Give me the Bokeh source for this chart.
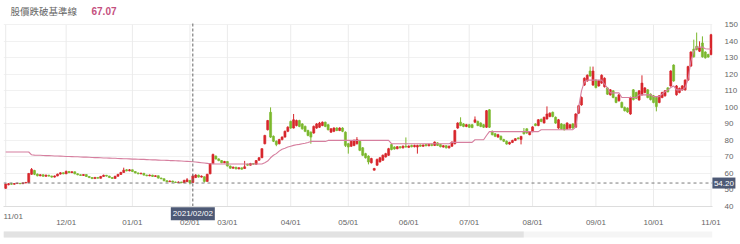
import pandas as pd
from bokeh.plotting import figure
from bokeh.models import Range1d, FixedTicker, Label, ColumnDataSource, Span
from bokeh.core.properties import value
from bokeh.layouts import column
from bokeh.embed import file_html
from bokeh.resources import INLINE

# ---------------- data ----------------
holidays = ["2021-01-01", "2021-02-08", "2021-02-09", "2021-02-10", "2021-02-11",
            "2021-02-12", "2021-02-15", "2021-02-16", "2021-03-01", "2021-04-02",
            "2021-04-05", "2021-06-14", "2021-09-20", "2021-09-21", "2021-10-11"]
first_day = "2020-11-02"
last_day = "2021-11-01"

open_ = [
    51.0, 53.2, 53.8, 53.5, 53.9, 54.0, 53.8, 54.3, 54.5, 59.5,
    61.8, 59.6, 58.6, 59.2, 58.3, 58.9, 58.4, 57.8, 58.5, 59.6,
    60.4, 59.8, 61.2, 60.5, 61.0, 59.8, 59.2, 58.8, 59.3, 58.2,
    57.5, 56.9, 57.6, 57.1, 58.2, 58.9, 58.4, 57.5, 57.0, 58.3,
    59.4, 60.6, 62.2, 61.6, 62.2, 61.2, 60.3, 59.8, 60.1, 59.0,
    58.6, 59.0, 58.2, 58.6, 57.2, 56.8, 55.6, 55.0, 55.4, 54.8,
    54.5, 54.8, 54.4, 55.0, 55.8, 54.5, 57.5, 59.0, 57.8, 58.0,
    55.2, 59.8, 66.0, 70.5, 68.8, 67.8, 66.5, 67.2, 64.5, 63.2,
    63.8, 62.8, 63.4, 63.0, 65.5, 65.0, 66.0, 65.6, 68.0, 69.5,
    78.0, 86.5, 97.0, 82.5, 79.5, 78.0, 80.5, 82.0, 85.5, 91.5,
    87.5, 89.0, 92.0, 90.0, 88.5, 86.0, 85.0, 84.5, 87.5, 88.0,
    89.0, 91.0, 89.5, 85.0, 85.5, 87.5, 86.0, 87.5, 85.0, 78.0,
    76.5, 77.0, 78.0, 79.5, 75.5, 72.0, 70.5, 66.5, 62.0, 65.0,
    67.0, 68.0, 70.0, 71.0, 77.5, 76.0, 75.0, 76.2, 75.5, 76.5,
    75.8, 77.0, 76.2, 76.0, 77.2, 76.5, 77.5, 76.8, 77.6, 77.0,
    78.5, 77.5, 76.0, 76.8, 75.5, 76.5, 78.0, 87.5, 91.0, 90.0,
    88.5, 89.5, 89.5, 91.0, 91.5, 90.5, 89.5, 88.0, 98.5, 85.5,
    84.0, 82.0, 82.5, 80.5, 79.5, 77.8, 78.8, 80.0, 81.5, 80.6,
    85.5, 87.0, 83.5, 85.3, 90.0, 89.0, 92.8, 90.6, 93.0, 94.5,
    97.0, 94.0, 87.5, 90.0, 89.5, 87.0, 87.5, 90.0, 88.0, 96.5,
    101.5, 113.5, 116.0, 122.0, 113.5, 116.5, 113.0, 114.7, 112.5, 111.8,
    107.6, 110.0, 106.0, 104.0, 103.0, 100.0, 99.5, 96.0, 110.6, 109.0,
    104.5, 107.6, 109.0, 110.6, 108.0, 107.0, 106.0, 103.0, 106.0, 107.0,
    111.8, 113.0, 125.6, 107.6, 109.0, 110.6, 110.6, 116.5, 125.0, 135.3,
    137.0, 134.0, 139.0, 133.5, 132.0, 132.0,
]
close_ = [
    53.6, 53.8, 53.5, 53.9, 54.0, 53.8, 54.3, 54.5, 60.0, 62.4,
    59.5, 58.6, 59.2, 58.3, 58.9, 58.4, 57.8, 58.5, 59.6, 60.4,
    59.8, 61.2, 60.5, 61.0, 59.8, 59.2, 58.8, 59.3, 58.2, 57.5,
    56.9, 57.6, 57.1, 58.2, 58.9, 58.4, 57.5, 57.0, 58.3, 59.4,
    60.6, 62.0, 61.6, 62.2, 61.2, 60.3, 59.8, 60.1, 59.0, 58.6,
    59.0, 58.2, 58.6, 57.2, 56.8, 55.6, 55.0, 55.4, 54.8, 54.5,
    54.8, 54.4, 55.8, 56.2, 54.3, 58.5, 59.0, 57.8, 58.4, 55.2,
    59.5, 66.0, 71.5, 68.8, 67.8, 66.5, 67.2, 64.5, 63.2, 63.8,
    62.8, 63.4, 62.6, 64.0, 65.0, 66.0, 65.6, 67.8, 69.5, 75.0,
    83.0, 92.0, 82.0, 79.5, 77.5, 80.5, 82.0, 85.5, 88.0, 87.5,
    92.5, 92.0, 88.5, 87.0, 85.5, 83.0, 82.0, 88.5, 90.0, 90.5,
    91.0, 88.5, 86.5, 87.0, 87.5, 86.0, 87.5, 85.5, 77.0, 76.0,
    79.5, 80.0, 80.5, 74.0, 71.0, 69.5, 67.0, 69.0, 63.0, 68.5,
    69.5, 71.0, 72.0, 75.0, 74.5, 74.8, 76.2, 75.5, 76.5, 76.0,
    76.6, 76.2, 77.0, 77.0, 76.5, 77.2, 76.8, 77.6, 76.9, 79.0,
    77.0, 76.2, 76.8, 75.5, 76.5, 79.0, 86.0, 90.5, 89.0, 88.5,
    89.5, 88.0, 87.8, 92.5, 89.0, 88.5, 88.0, 98.0, 88.0, 83.5,
    82.5, 83.5, 80.5, 79.5, 77.8, 78.8, 80.0, 81.0, 81.0, 82.4,
    84.0, 84.5, 85.3, 88.2, 89.0, 92.5, 91.5, 94.0, 96.0, 96.5,
    94.5, 90.5, 92.5, 87.0, 86.5, 90.5, 89.5, 87.5, 96.0, 101.0,
    106.0, 117.6, 119.4, 119.0, 122.0, 112.0, 116.0, 119.4, 117.6, 108.0,
    110.6, 106.0, 103.0, 107.6, 100.0, 98.0, 97.2, 106.0, 104.7, 105.5,
    110.0, 114.7, 111.8, 106.0, 104.7, 103.0, 100.5, 107.0, 109.0, 110.0,
    109.5, 122.0, 116.0, 113.0, 111.5, 113.0, 116.5, 124.7, 133.5, 130.6,
    135.0, 136.0, 130.6, 130.0, 130.5, 144.0,
]
high_ = [
    53.8, 54.2, 54.3, 54.2, 54.4, 54.3, 54.6, 54.9, 60.3, 63.3,
    62.2, 60.0, 59.6, 59.5, 59.4, 59.2, 58.7, 58.8, 59.9, 60.8,
    60.7, 61.8, 61.5, 61.4, 61.2, 60.1, 59.5, 59.6, 59.5, 58.4,
    57.8, 57.9, 57.8, 58.5, 59.3, 59.1, 58.6, 57.7, 58.6, 59.8,
    61.0, 63.5, 62.6, 62.7, 62.4, 61.4, 60.6, 60.5, 60.3, 59.3,
    59.4, 59.2, 58.9, 58.8, 57.5, 57.0, 55.9, 55.8, 55.6, 55.1,
    55.2, 55.0, 56.2, 57.2, 56.0, 59.4, 59.6, 59.3, 58.8, 58.2,
    59.8, 66.3, 72.0, 70.9, 69.2, 68.1, 67.6, 67.4, 64.8, 64.2,
    64.0, 63.8, 63.6, 67.6, 65.9, 66.4, 66.3, 68.1, 69.9, 75.3,
    83.4, 92.4, 100.0, 83.0, 80.0, 81.0, 82.5, 86.0, 88.6, 92.0,
    96.0, 92.6, 92.5, 90.5, 89.0, 86.5, 85.5, 89.0, 90.5, 91.2,
    91.5, 91.4, 90.0, 87.5, 88.0, 88.0, 88.0, 88.0, 85.5, 78.5,
    80.0, 80.6, 82.0, 80.0, 76.0, 72.5, 71.0, 69.5, 63.4, 69.0,
    70.0, 71.5, 72.5, 75.5, 78.0, 76.5, 76.6, 76.6, 77.0, 81.8,
    77.0, 77.4, 77.4, 77.4, 77.6, 77.6, 77.9, 78.0, 78.0, 79.4,
    78.9, 77.9, 77.2, 77.1, 76.9, 79.4, 86.4, 91.0, 94.0, 90.5,
    90.0, 90.0, 90.0, 94.5, 92.0, 91.0, 90.0, 98.4, 99.0, 86.0,
    84.5, 84.0, 83.0, 81.0, 80.0, 79.2, 80.4, 81.4, 81.9, 82.8,
    87.5, 87.4, 85.7, 88.6, 90.4, 92.9, 93.2, 94.4, 100.6, 97.0,
    97.5, 94.5, 93.0, 90.5, 90.0, 91.0, 90.0, 90.5, 96.5, 101.5,
    106.6, 118.2, 120.0, 124.7, 124.7, 117.0, 116.6, 120.0, 118.2, 112.3,
    111.1, 110.5, 106.5, 108.1, 103.5, 100.5, 100.0, 106.5, 111.1, 109.5,
    110.5, 119.4, 112.3, 111.1, 108.5, 107.5, 106.5, 107.5, 109.5, 110.5,
    112.3, 122.5, 126.1, 113.5, 112.0, 113.5, 117.0, 125.2, 134.0, 141.0,
    145.3, 140.0, 143.0, 134.0, 132.5, 144.5,
]
low_ = [
    50.6, 52.8, 53.2, 53.2, 53.6, 53.5, 53.6, 54.0, 54.2, 59.2,
    59.0, 58.2, 58.3, 58.0, 58.0, 58.1, 57.4, 57.5, 58.3, 59.3,
    59.5, 59.6, 60.2, 60.2, 59.5, 58.9, 58.5, 58.5, 57.9, 57.2,
    56.6, 56.7, 56.9, 56.9, 58.0, 58.1, 57.3, 56.7, 56.9, 58.1,
    59.2, 60.4, 61.3, 61.3, 60.9, 60.0, 59.5, 59.5, 58.7, 58.3,
    58.3, 57.9, 57.9, 56.9, 56.5, 55.3, 54.7, 54.8, 54.5, 54.2,
    54.3, 54.1, 54.2, 54.8, 53.4, 54.2, 57.2, 57.5, 57.5, 54.5,
    55.0, 59.5, 65.8, 68.4, 67.4, 66.2, 66.2, 64.2, 62.8, 62.9,
    62.5, 62.5, 62.3, 62.8, 64.7, 64.8, 65.3, 65.4, 67.8, 69.3,
    77.6, 86.0, 81.5, 79.0, 76.5, 77.6, 80.0, 81.7, 85.0, 87.0,
    87.2, 88.5, 88.0, 86.5, 85.0, 82.5, 78.0, 84.0, 87.0, 87.6,
    88.6, 88.0, 86.0, 84.6, 85.0, 85.6, 85.6, 85.0, 76.0, 72.0,
    76.0, 76.5, 77.5, 73.5, 70.5, 69.0, 65.5, 66.0, 61.8, 64.6,
    66.6, 67.6, 69.6, 70.6, 74.0, 74.4, 74.6, 75.1, 75.1, 75.6,
    75.4, 75.8, 75.8, 72.0, 76.1, 76.1, 76.4, 76.4, 76.5, 76.6,
    76.6, 75.8, 75.6, 75.1, 75.1, 76.1, 77.6, 87.0, 88.6, 88.0,
    88.0, 87.5, 87.4, 90.6, 88.6, 88.0, 87.5, 87.6, 87.5, 83.0,
    82.0, 81.6, 80.0, 79.0, 77.4, 77.4, 78.4, 79.6, 80.6, 77.6,
    83.6, 84.0, 83.1, 85.0, 88.6, 88.6, 91.0, 90.2, 92.6, 94.0,
    94.0, 90.0, 87.0, 86.5, 86.0, 86.6, 87.0, 87.0, 87.6, 96.0,
    101.0, 113.0, 115.5, 118.5, 113.0, 111.5, 112.5, 114.2, 112.0, 107.5,
    107.1, 105.5, 102.5, 103.5, 99.5, 97.5, 96.7, 95.5, 104.2, 105.0,
    104.0, 107.1, 108.5, 105.5, 104.2, 102.5, 97.6, 102.5, 105.5, 106.5,
    109.0, 112.5, 115.5, 107.1, 108.5, 110.1, 110.1, 116.0, 124.5, 130.1,
    134.5, 133.5, 130.1, 129.5, 130.0, 131.5,
]
baseline = [
    73.0, 73.0, 73.0, 73.0, 73.0, 73.0, 73.0, 73.0, 73.0, 71.3,
    71.1, 71.0, 71.0, 70.9, 70.8, 70.8, 70.7, 70.6, 70.6, 70.5,
    70.4, 70.3, 70.3, 70.2, 70.1, 70.1, 70.0, 69.9, 69.9, 69.8,
    69.7, 69.6, 69.6, 69.5, 69.4, 69.4, 69.3, 69.2, 69.2, 69.1,
    69.0, 68.9, 68.9, 68.8, 68.7, 68.7, 68.6, 68.5, 68.5, 68.4,
    68.3, 68.2, 68.2, 68.1, 68.0, 68.0, 67.9, 67.8, 67.8, 67.7,
    67.6, 67.5, 67.4, 67.3, 67.2, 67.07, 66.9, 66.7, 66.5, 66.3,
    66.1, 65.9, 65.8, 65.7, 65.7, 65.7, 65.7, 65.7, 65.7, 65.7,
    65.7, 65.7, 65.7, 65.7, 65.7, 65.7, 65.7, 65.7, 65.7, 65.7,
    66.5, 67.5, 69.5, 71.0, 72.0, 73.5, 74.7, 75.3, 76.0, 76.5,
    77.0, 77.4, 77.6, 78.0, 78.3, 78.8, 79.4, 79.4, 79.4, 79.4,
    79.4, 79.4, 80.0, 80.0, 80.0, 80.0, 80.0, 80.0, 80.0, 80.0,
    80.0, 80.0, 80.0, 80.0, 80.0, 80.0, 80.0, 80.0, 80.0, 80.0,
    80.0, 80.0, 80.0, 80.0, 78.0, 78.0, 78.0, 78.0, 78.0, 78.0,
    78.0, 78.0, 78.0, 78.0, 78.0, 78.0, 78.0, 78.0, 78.0, 78.0,
    78.0, 78.0, 78.0, 78.0, 78.0, 78.8, 78.8, 78.8, 78.8, 78.8,
    78.8, 78.8, 78.8, 80.4, 80.4, 80.4, 80.4, 83.0, 85.3, 85.3,
    85.3, 85.3, 85.3, 85.3, 85.3, 85.3, 85.3, 85.3, 85.3, 85.3,
    85.3, 85.3, 85.3, 85.3, 85.3, 85.3, 86.5, 86.5, 86.5, 86.5,
    86.5, 86.5, 86.5, 86.5, 86.5, 86.5, 86.5, 86.5, 88.0, 100.0,
    110.0, 115.5, 116.5, 116.5, 116.5, 116.5, 116.5, 116.5, 114.0, 111.8,
    108.8, 108.8, 108.8, 108.8, 106.0, 106.0, 106.0, 106.0, 106.0, 106.0,
    107.6, 107.6, 107.6, 107.6, 107.6, 106.5, 106.5, 106.5, 108.0, 109.5,
    110.6, 112.0, 113.0, 110.6, 110.6, 110.6, 112.0, 117.0, 128.0, 134.0,
    136.5, 136.5, 136.5, 135.5, 135.3, 135.3,
]
y_ticks = [40, 50, 60, 70, 80, 90, 100, 110, 120, 130, 140, 150]
title_text = "股價跌破基準線"
cross_date = "2021-02-02"
cross_price = 54.20

# ---------------- derived ----------------
n = len(close_)
dates = list(pd.bdate_range(first_day, last_day, freq="C", holidays=holidays))[:n]
xs = list(range(n))
month_ticks, month_labels, prev = [], {}, None
for i, d in enumerate(dates):
    if d.month != prev:
        month_ticks.append(i)
        month_labels[i] = f"{d.month:02d}/01"
    prev = d.month
cross_i = dates.index(pd.Timestamp(cross_date))

UP, DOWN = "#d7262c", "#7bb82d"
colors = [UP if c >= o else DOWN for o, c in zip(open_, close_)]
src = ColumnDataSource(dict(
    x=xs, high=high_, low=low_,
    top=[max(o, c) for o, c in zip(open_, close_)],
    bottom=[min(o, c) for o, c in zip(open_, close_)],
    color=colors, base=baseline,
))

FONT = "Liberation Sans"
W, H = 740, 229
BL, BR, BT, BB = 3, 23, 0, 17
x_start, x_end = -0.76, 245.5
y_start, y_end = 40, 164.7
px_x = (W - BL - BR) / (x_end - x_start)      # pixels per trading day
px_y = (H - BT - BB) / (y_end - y_start)      # pixels per price unit

p = figure(width=W, height=H, x_range=Range1d(x_start, x_end),
           y_range=Range1d(y_start, y_end), y_axis_location="right",
           output_backend="svg", toolbar_location=None,
           min_border_left=BL, min_border_right=BR, min_border_top=BT,
           min_border_bottom=BB)
p.outline_line_color = None
p.background_fill_color = "white"
p.border_fill_color = "white"

# grids: vertical month lines only over the price area
p.xgrid.visible = False
p.segment(x0=month_ticks, y0=[y_start] * len(month_ticks), x1=month_ticks,
          y1=[y_ticks[-1]] * len(month_ticks), line_color="#ebebeb", line_width=1)
p.ygrid.ticker = FixedTicker(ticks=y_ticks)
p.ygrid.grid_line_color = "#f1f1f1"

# axes
xa = p.xaxis[0]
xa.ticker = FixedTicker(ticks=month_ticks)
xa.major_label_overrides = {k: ("" if k == month_ticks[0] else v) for k, v in month_labels.items()}
xa.axis_line_color = "#dddddd"
xa.major_tick_line_color = None
xa.minor_tick_line_color = None
xa.major_label_text_font = FONT
xa.major_label_text_font_size = "8px"
xa.major_label_text_color = "#666666"
xa.major_label_standoff = 5

ya = p.yaxis[0]
ya.ticker = FixedTicker(ticks=y_ticks)
ya.axis_line_color = None
ya.major_tick_line_color = None
ya.minor_tick_line_color = None
ya.major_label_text_font = FONT
ya.major_label_text_font_size = "8px"
ya.major_label_text_color = "#666666"
ya.major_label_standoff = 6

# candles
p.segment(x0="x", y0="high", x1="x", y1="low", color="color", line_width=1, source=src)
p.vbar(x="x", width=0.72, top="top", bottom="bottom", fill_color="color",
       line_color="color", line_width=0.6, source=src)
# baseline
p.line(x="x", y="base", line_color="#d67f9f", line_width=1.1, source=src)

# crosshair
p.add_layout(Span(location=cross_price, dimension="width", line_color="#7a7a7a",
                  line_dash="3 3", line_width=1))
p.segment(x0=[cross_i], y0=[y_start], x1=[cross_i], y1=[y_ticks[-1] + 0.8],
          line_color="#666666", line_dash="3 2", line_width=1)

BOX = "#4d5975"
# crosshair labels drawn at overlay level (outside the frame)
date_y = y_start - 7.5 / px_y
p.rect(x=[cross_i], y=[date_y], width=44, height=13, width_units="screen",
       height_units="screen", fill_color=BOX, line_color=None, level="overlay")
p.text(x=[cross_i], y=[date_y], text=[dates[cross_i].strftime("%Y/%m/%d")],
       text_align="center", text_baseline="middle", text_font=value(FONT),
       text_font_size="8px", text_color="white", level="overlay")
price_x = x_end + 11.5 / px_x
p.rect(x=[price_x], y=[cross_price], width=23, height=11, width_units="screen",
       height_units="screen", fill_color=BOX, line_color=None, level="overlay")
p.text(x=[price_x], y=[cross_price], text=[f"{cross_price:.2f}"],
       text_align="center", text_baseline="middle", text_font=value(FONT),
       text_font_size="8px", text_color="white", level="overlay")
# first month label, kept inside the left edge like the original
p.text(x=[x_start], y=[y_start], y_offset=5, text=[month_labels[month_ticks[0]]],
       text_align="left", text_baseline="top", text_font=value(FONT),
       text_font_size="8px", text_color="#666666", level="overlay")

# title
p.add_layout(Label(x=x_start, y=y_end, x_offset=7, y_offset=-10, text=title_text,
                   text_baseline="middle", text_font="Noto Sans CJK TC",
                   text_font_size="9.5px", text_color="#666666"))
p.add_layout(Label(x=x_start, y=y_end, x_offset=88, y_offset=-10,
                   text=f"{baseline[cross_i]:.2f}", text_baseline="middle",
                   text_font=FONT, text_font_size="10px", text_color="#c4507e",
                   text_font_style="bold"))

# navigator / scrollbar strip
nav = figure(width=W, height=244 - H, x_range=Range1d(0, W), y_range=Range1d(244 - H, 0),
             output_backend="svg", toolbar_location=None, min_border=0)
nav.axis.visible = False
nav.grid.visible = False
nav.outline_line_color = None
nav.quad(left=[0], right=[W], top=[2], bottom=[8], fill_color="#f5f5f5", line_color=None)
nav.quad(left=[0], right=[543], top=[2], bottom=[8], fill_color="#e2e2e2", line_color=None)

layout = column(p, nav, spacing=0)
open("out.html", "w").write(file_html(layout, INLINE))
